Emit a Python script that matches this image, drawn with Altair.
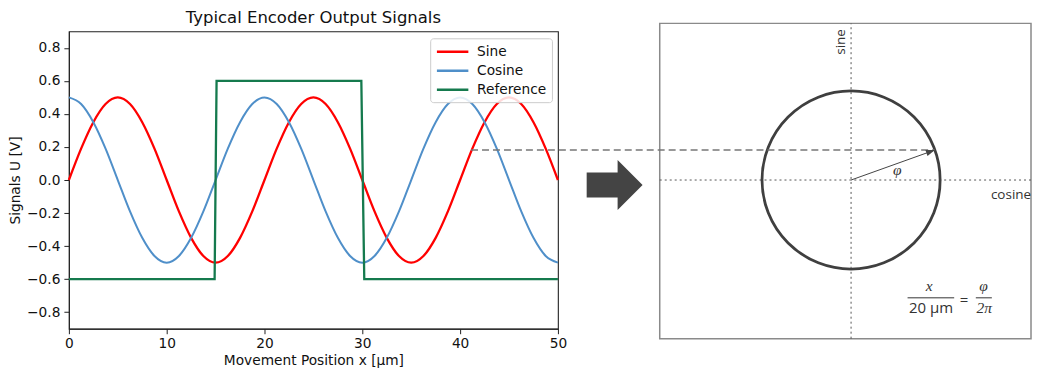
import altair as alt
import numpy as np
import pandas as pd

# ---------------- values ----------------
wave_x = [0, 1.25, 2.5, 3.75, 5, 6.25, 7.5, 8.75, 10, 11.25, 12.5, 13.75, 15,
          16.25, 17.5, 18.75, 20, 21.25, 22.5, 23.75, 25, 26.25, 27.5, 28.75, 30,
          31.25, 32.5, 33.75, 35, 36.25, 37.5, 38.75, 40, 41.25, 42.5, 43.75, 45,
          46.25, 47.5, 48.75, 50]
sine_u = [0.0, 0.19, 0.35, 0.46, 0.5, 0.46, 0.35, 0.19, 0.0, -0.19, -0.35, -0.46, -0.5,
          -0.46, -0.35, -0.19, 0.0, 0.19, 0.35, 0.46, 0.5, 0.46, 0.35, 0.19, 0.0,
          -0.19, -0.35, -0.46, -0.5, -0.46, -0.35, -0.19, 0.0, 0.19, 0.35, 0.46, 0.5,
          0.46, 0.35, 0.19, 0.0]
cosine_u = [0.5, 0.46, 0.35, 0.19, 0.0, -0.19, -0.35, -0.46, -0.5, -0.46, -0.35, -0.19, 0.0,
            0.19, 0.35, 0.46, 0.5, 0.46, 0.35, 0.19, 0.0, -0.19, -0.35, -0.46, -0.5,
            -0.46, -0.35, -0.19, 0.0, 0.19, 0.35, 0.46, 0.5, 0.46, 0.35, 0.19, 0.0,
            -0.19, -0.35, -0.46, -0.5]
reference_x = [0, 14.9, 15.1, 29.9, 30.2, 50]
reference_u = [-0.6, -0.6, 0.6, 0.6, -0.6, -0.6]

series_names = ["Sine", "Cosine", "Reference"]
series_colors = ["#ff0000", "#4f8fc9", "#157a4e"]
x_ticks = [0, 10, 20, 30, 40, 50]
y_ticks = [-0.8, -0.6, -0.4, -0.2, 0.0, 0.2, 0.4, 0.6, 0.8]

# phasor diagram (in signal units, same vertical scale as the left plot)
circle_radius = [0.539]
phi_deg = [19.7]
diagram_labels = ["sine", "cosine"]

# ---------------- layout ----------------
LEFT_W, LEFT_H = 490, 298
RIGHT_W = 372
Y_DOMAIN = [-0.9, 0.9]
PX_PER_UNIT = LEFT_H / (Y_DOMAIN[1] - Y_DOMAIN[0])
RIGHT_X_DOMAIN = [-1.158, 1.089]
FRAME_X = [-1.158, 1.089]
FRAME_Y = [-0.960, 0.948]

FONT = "DejaVu Sans"
FS = 13.75

signals = pd.concat([
    pd.DataFrame({"x": wave_x, "u": sine_u, "series": "Sine"}),
    pd.DataFrame({"x": wave_x, "u": cosine_u, "series": "Cosine"}),
    pd.DataFrame({"x": reference_x, "u": reference_u, "series": "Reference"}),
], ignore_index=True)

xs = alt.X("x:Q", scale=alt.Scale(domain=[0, 50], nice=False, zero=False),
           axis=alt.Axis(values=x_ticks, format="d", title="Movement Position x [µm]",
                         grid=False, labelFlush=False, tickSize=5, labelPadding=3,
                         titlePadding=3, labelFont=FONT, titleFont=FONT,
                         labelFontSize=FS, titleFontSize=FS, titleFontWeight="normal",
                         domainColor="#222", tickColor="#222", labelColor="#111",
                         titleColor="#111"))
ys = alt.Y("u:Q", scale=alt.Scale(domain=Y_DOMAIN, nice=False, zero=False),
           axis=alt.Axis(values=y_ticks, format=".1f", title="Signals U [V]",
                         grid=False, tickSize=5, labelPadding=4, titlePadding=4,
                         labelFont=FONT, titleFont=FONT, labelFontSize=FS,
                         titleFontSize=FS, titleFontWeight="normal",
                         domainColor="#222", tickColor="#222", labelColor="#111",
                         titleColor="#111"))
color = alt.Color("series:N",
                  scale=alt.Scale(domain=series_names, range=series_colors),
                  legend=alt.Legend(title=None, orient="none", legendX=362, legendY=7,
                                    symbolType="M-2.25,0L2.25,0", symbolSize=196,
                                    symbolOffset=9, symbolStrokeWidth=2.5,
                                    labelFont=FONT, labelFontSize=FS, labelOffset=16,
                                    rowPadding=3, padding=5,
                                    fillColor="rgba(255,255,255,0.85)",
                                    strokeColor="#cccccc", cornerRadius=3,
                                    labelColor="#111"))


def series_layer(name, width, interp):
    return (alt.Chart(signals)
            .transform_filter(alt.datum.series == name)
            .mark_line(strokeWidth=width, interpolate=interp)
            .encode(x=xs, y=ys, color=color))


left = alt.layer(
    series_layer("Sine", 2.3, "cardinal"),
    series_layer("Cosine", 2.0, "cardinal"),
    series_layer("Reference", 2.3, "linear"),
).properties(
    width=LEFT_W, height=LEFT_H,
    title=alt.Title("Typical Encoder Output Signals", fontSize=16.5, font=FONT,
                    fontWeight="normal", offset=5, anchor="middle", color="#111"),
    view=alt.ViewBackground(stroke="#222", strokeWidth=1.1),
)

# ---------------- right-hand phasor diagram ----------------
r = circle_radius[0]
phi = np.deg2rad(phi_deg[0])
tip_x, tip_y = r * np.cos(phi), r * np.sin(phi)
dash_start_x = -2.30  # where the sine trace meets the dashed level (x = 41.2 um)


def RX(f="x"):
    return alt.X(f"{f}:Q", scale=alt.Scale(domain=RIGHT_X_DOMAIN, nice=False, zero=False), axis=None)


def RY(f="y"):
    return alt.Y(f"{f}:Q", scale=alt.Scale(domain=Y_DOMAIN, nice=False, zero=False), axis=None)


frame = alt.Chart(pd.DataFrame({"x": [FRAME_X[0]], "x2": [FRAME_X[1]],
                                "y": [FRAME_Y[0]], "y2": [FRAME_Y[1]]})).mark_rect(
    fill="white", stroke="#8a8a8a", strokeWidth=1.5).encode(
    x=RX(), x2="x2:Q", y=RY(), y2="y2:Q")

sine_axis = alt.Chart(pd.DataFrame({"x": [0.0], "y": [FRAME_Y[0]], "y2": [FRAME_Y[1]]})).mark_rule(
    color="#555", strokeDash=[2, 3], strokeWidth=1).encode(x=RX(), y=RY(), y2="y2:Q")
cos_axis = alt.Chart(pd.DataFrame({"y": [0.0], "x": [FRAME_X[0]], "x2": [1.101]})).mark_rule(
    color="#555", strokeDash=[2, 3], strokeWidth=1).encode(x=RX(), x2="x2:Q", y=RY())

circle = alt.Chart(pd.DataFrame({"x": [0.0], "y": [0.0]})).mark_point(
    shape="circle", filled=False, size=(2 * r * PX_PER_UNIT) ** 2, stroke="#3f3f3f",
    strokeWidth=2.8, opacity=1).encode(x=RX(), y=RY())

connector = alt.Chart(pd.DataFrame({"x": [dash_start_x], "x2": [tip_x], "y": [tip_y]})).mark_rule(
    color="#777", strokeDash=[7, 4], strokeWidth=1.5).encode(x=RX(), x2="x2:Q", y=RY())

radius_line = alt.Chart(pd.DataFrame({"x": [0.0], "y": [0.0], "x2": [tip_x], "y2": [tip_y]})).mark_rule(
    color="#444", strokeWidth=1).encode(x=RX(), y=RY(), x2="x2:Q", y2="y2:Q")

arrow_head = alt.Chart(pd.DataFrame({"x": [tip_x], "y": [tip_y]})).mark_point(
    shape="M0,0L-2,-0.7L-2,0.7Z", filled=True, size=81, color="#444", opacity=1,
    angle=360 - phi_deg[0]).encode(x=RX(), y=RY())

big_arrow = alt.Chart(pd.DataFrame({"x": [-1.431], "y": [-0.03]})).mark_point(
    shape="M-1,-0.446L0.107,-0.446L0.107,-0.893L1,0L0.107,0.893L0.107,0.446L-1,0.446Z",
    filled=True, size=3136, color="#444", opacity=1, strokeWidth=0).encode(x=RX(), y=RY())

sine_lbl = alt.Chart(pd.DataFrame({"x": [-0.059], "y": [0.836], "t": [diagram_labels[0]]})).mark_text(
    angle=270, font="Open Sans", fontSize=13.5, color="#333", align="center", baseline="middle"
).encode(x=RX(), y=RY(), text="t:N")
cos_lbl = alt.Chart(pd.DataFrame({"x": [0.968], "y": [-0.09], "t": [diagram_labels[1]]})).mark_text(
    font="Open Sans", fontSize=13.5, color="#333", align="center", baseline="middle"
).encode(x=RX(), y=RY(), text="t:N")

serif_txt = alt.Chart(pd.DataFrame({
    "x": [0.280, 0.473, 0.802, 0.806],
    "y": [0.063, -0.642, -0.640, -0.774],
    "t": ["φ", "x", "φ", "2π"],
})).mark_text(font="Liberation Serif", fontStyle="italic", fontSize=15.5, color="#333",
              align="center", baseline="middle").encode(x=RX(), y=RY(), text="t:N")

sans_txt = alt.Chart(pd.DataFrame({
    "x": [0.484, 0.684], "y": [-0.774, -0.724], "t": ["20 µm", "="],
})).mark_text(font="Open Sans", fontSize=15, color="#333", align="center",
              baseline="middle").encode(x=RX(), y=RY(), text="t:N")

frac_bars = alt.Chart(pd.DataFrame({
    "x": [0.342, 0.755], "x2": [0.624, 0.852], "y": [-0.713, -0.713],
})).mark_rule(color="#333", strokeWidth=1).encode(x=RX(), x2="x2:Q", y=RY())

right = alt.layer(frame, sine_axis, cos_axis, circle, connector, radius_line, arrow_head,
                  big_arrow, sine_lbl, cos_lbl, serif_txt, sans_txt, frac_bars).properties(
    width=RIGHT_W, height=LEFT_H,
    view=alt.ViewBackground(stroke="transparent"),
)

chart = alt.hconcat(left, right, spacing=102, bounds="flush").resolve_scale(
    x="independent", y="independent").properties(
    padding={"left": 0, "top": 0, "right": 0, "bottom": 0},
    background="white",
)

chart.save("out.html", embed_options={"renderer": "svg", "actions": False})
